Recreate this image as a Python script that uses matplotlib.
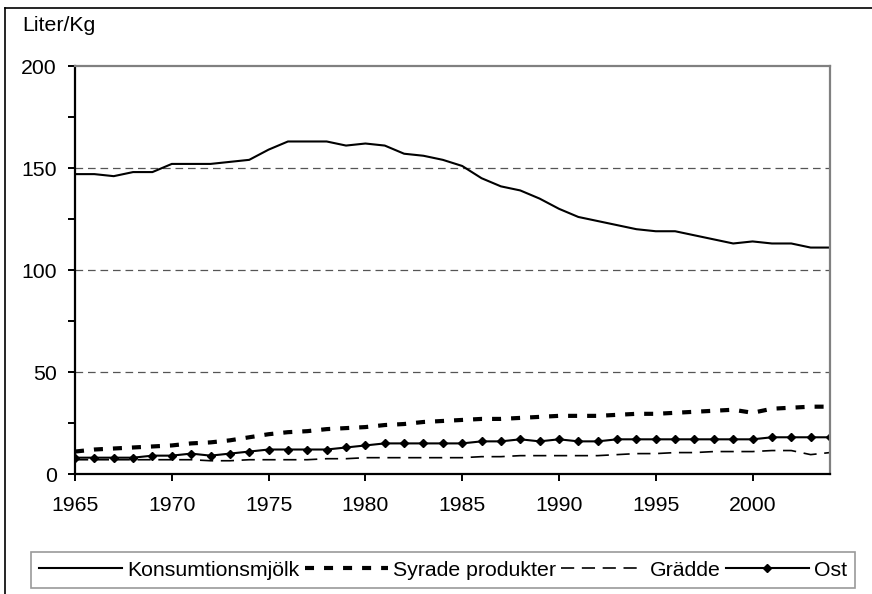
import matplotlib
matplotlib.use("Agg")
import matplotlib.pyplot as plt
from matplotlib.lines import Line2D

plt.rcParams['font.family'] = ['Liberation Sans', 'DejaVu Sans']
plt.rcParams['lines.scale_dashes'] = False

years = list(range(1965, 2005))
konsumtionsmjolk = [147, 147, 146, 148, 148, 152, 152, 152, 153, 154,
                    159, 163, 163, 163, 161, 162, 161, 157, 156, 154,
                    151, 145, 141, 139, 135, 130, 126, 124, 122, 120,
                    119, 119, 117, 115, 113, 114, 113, 113, 111, 111]
syrade = [11, 12, 12.5, 13, 13.5, 14, 15, 15.5, 16.5, 18,
          19.5, 20.5, 21, 22, 22.5, 23, 24, 24.5, 25.5, 26,
          26.5, 27, 27, 27.5, 28, 28.5, 28.5, 28.5, 29, 29.5,
          29.5, 30, 30.5, 31, 31.5, 30, 32, 32.5, 33, 33]
gradde = [7, 7, 7, 7, 7, 7, 7, 6.5, 6.5, 7,
          7, 7, 7, 7.5, 7.5, 8, 8, 8, 8, 8,
          8, 8.5, 8.5, 9, 9, 9, 9, 9, 9.5, 10,
          10, 10.5, 10.5, 11, 11, 11, 11.5, 11.5, 9.5, 10.5]
ost = [8, 8, 8, 8, 9, 9, 10, 9, 10, 11,
       12, 12, 12, 12, 13, 14, 15, 15, 15, 15,
       15, 16, 16, 17, 16, 17, 16, 16, 17, 17,
       17, 17, 17, 17, 17, 17, 18, 18, 18, 18]
labels = ["Konsumtionsmjölk", "Syrade produkter", "Grädde", "Ost"]
xticks = [1965, 1970, 1975, 1980, 1985, 1990, 1995, 2000]
yticks_major = [0, 50, 100, 150, 200]

FS = 15.3
W, H = 872, 594
fig = plt.figure(figsize=(W / 100, H / 100), dpi=100)
ax = fig.add_axes([75 / W, 1 - 474 / H, (830 - 75) / W, (474 - 66) / H])

ax.plot(years, konsumtionsmjolk, color='black', lw=1.5, label=labels[0])
ax.plot(years, syrade, color='black', lw=3.0, dashes=(6.5, 7.2), label=labels[1])
ax.plot(years, gradde, color='black', lw=1.2, dashes=(9.5, 5.5), label=labels[2])
ax.plot(years, ost, color='black', lw=1.5, marker='D', markersize=3.8, label=labels[3])

ax.set_xlim(1965, 2004)
ax.set_ylim(0, 200)
ax.set_xticks(xticks)
ax.set_yticks(list(range(0, 201, 25)))
ax.set_yticklabels([str(v) if v in yticks_major else '' for v in range(0, 201, 25)])

for v in [50, 100, 150]:
    ax.axhline(v, color='#555555', lw=0.9, dashes=(5.5, 3.5), zorder=0)

for s in ['top', 'right']:
    ax.spines[s].set_color('#808080')
    ax.spines[s].set_linewidth(1.6)
for s in ['left', 'bottom']:
    ax.spines[s].set_color('black')
    ax.spines[s].set_linewidth(1.6)

ax.tick_params(axis='y', direction='out', length=5, width=1.4, pad=8, labelsize=FS)
ax.tick_params(axis='x', direction='out', length=5, width=1.4, pad=11, labelsize=FS)

fig.text(22 / W, 1 - 31 / H, "Liter/Kg", fontsize=FS, va='baseline', ha='left')

leg = ax.legend(loc='center', bbox_to_anchor=(443 / W, 1 - 570 / H), bbox_transform=fig.transFigure,
                ncol=4, fontsize=FS, frameon=True, fancybox=False, handlelength=3.9,
                handletextpad=0.25, columnspacing=0.25, borderpad=0.4, borderaxespad=0)
leg.get_frame().set_edgecolor('#808080')
leg.get_frame().set_linewidth(1.2)

# figure border (left and top)
fig.add_artist(Line2D([5 / W, 5 / W], [0, 1 - 8 / H], transform=fig.transFigure, color='black', lw=1.2))
fig.add_artist(Line2D([5 / W, 1], [1 - 8 / H, 1 - 8 / H], transform=fig.transFigure, color='black', lw=1.2))

fig.savefig("out.png", dpi=100)
